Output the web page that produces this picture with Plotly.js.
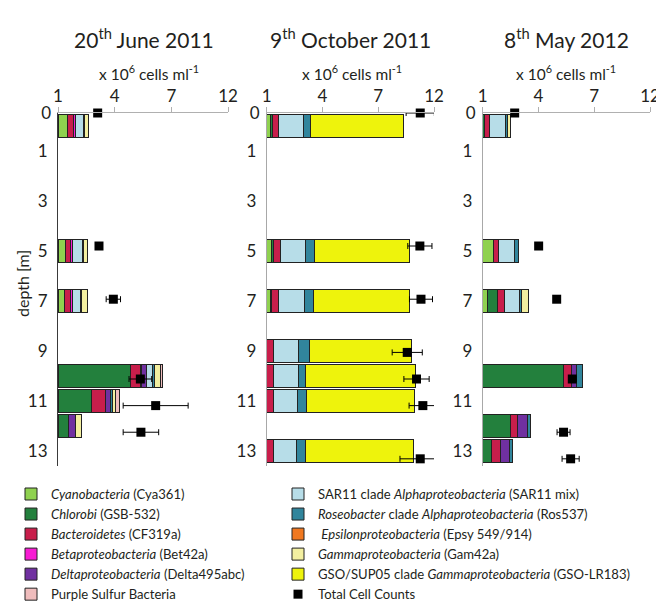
<!DOCTYPE html>
<html>
<head>
<meta charset="utf-8">
<script src="https://cdn.plot.ly/plotly-3.0.1.min.js"></script>
<style>html,body{margin:0;padding:0;background:#fff;}#chart{width:656px;height:602px;}</style>
</head>
<body>
<div id="chart"></div>
<script>
// ---- Data (bar lengths in axis units, axis tick "1" = 0) ----
const panelTitles = ["20<sup>th</sup> June 2011", "9<sup>th</sup> October 2011", "8<sup>th</sup> May 2012"];
const xTickVals = [0, 3, 6, 9];
const xTickText = ["1", "4", "7", "12"];
const yTickVals = [1, 3, 5, 7, 9, 11, 13];

// 20th June 2011
const depths1   = [0, 5, 7, 10, 11, 12];
const cyano1    = [0.49, 0.39, 0.37, null, null, null];
const chlorobi1 = [null, null, null, 3.85, 1.75, 0.58];
const bact1     = [0.32, 0.25, 0.28, 0.51, 0.74, null];
const beta1     = [0.10, 0.14, 0.14, 0.07, 0.05, null];
const delta1    = [null, null, null, 0.25, 0.25, 0.32];
const sar11_1   = [0.42, 0.53, 0.38, 0.33, null, null];
const roseo1    = [0.05, 0.04, 0.08, 0.10, 0.10, 0.05];
const eps1      = [null, null, null, null, null, null];
const gamma1    = [0.22, 0.22, 0.30, 0.30, 0.15, 0.28];
const gso1      = [null, null, null, null, null, null];
const psb1      = [null, null, null, 0.10, 0.20, null];
const count1    = [2.10, 2.17, 2.93, 4.36, 5.17, 4.39];
const countErr1 = [0, 0, 0.38, 0.60, 1.72, 0.94];

// 9th October 2011
const depths2   = [0, 5, 7, 9, 10, 11, 13];
const cyano2    = [0.20, 0.28, 0.18, null, null, null, null];
const chlorobi2 = [0.10, 0.10, 0.10, null, null, null, null];
const bact2     = [0.36, 0.36, 0.35, 0.39, 0.39, 0.39, 0.39];
const beta2     = [null, null, null, null, null, null, null];
const delta2    = [null, null, null, null, null, null, null];
const sar11_2   = [1.33, 1.33, 1.40, 1.33, 1.33, 1.29, 1.22];
const roseo2    = [0.37, 0.50, 0.50, 0.57, 0.39, 0.47, 0.50];
const eps2      = [null, null, null, null, null, null, null];
const gamma2    = [null, null, null, null, null, null, null];
const gso2      = [4.98, 5.13, 5.17, 5.48, 5.88, 5.81, 5.77];
const psb2      = [null, null, null, null, null, null, null];
const count2    = [8.26, 8.24, 8.30, 7.56, 8.06, 8.40, 8.26];
const countErr2 = [0.76, 0.65, 0.62, 0.81, 0.68, 0.74, 1.09];

// 8th May 2012
const depths3   = [0, 5, 7, 10, 12, 13];
const cyano3    = [null, 0.57, 0.28, null, null, null];
const chlorobi3 = [0.12, null, 0.50, 4.37, 1.47, 0.46];
const bact3     = [0.27, 0.30, 0.40, 0.39, 0.39, 0.50];
const beta3     = [null, null, null, null, null, null];
const delta3    = [null, null, null, 0.30, 0.54, 0.50];
const sar11_3   = [0.82, 0.85, 0.79, null, null, null];
const roseo3    = [0.10, 0.18, 0.14, 0.29, 0.15, 0.14];
const eps3      = [null, null, null, null, null, null];
const gamma3    = [0.16, null, 0.36, null, null, null];
const gso3      = [null, null, null, null, null, null];
const psb3      = [null, null, null, null, null, null];
const count3    = [1.72, 3.01, 3.98, 4.82, 4.35, 4.73];
const countErr3 = [0, 0, 0, 0.20, 0.35, 0.46];

const groupNames = [
  "<i>Cyanobacteria</i> (Cya361)",
  "<i>Chlorobi</i> (GSB-532)",
  "<i>Bacteroidetes</i> (CF319a)",
  "<i>Betaproteobacteria</i> (Bet42a)",
  "<i>Deltaproteobacteria</i> (Delta495abc)",
  "SAR11 clade <i>Alphaproteobacteria</i> (SAR11 mix)",
  "<i>Roseobacter</i> clade <i>Alphaproteobacteria</i> (Ros537)",
  " <i>Epsilonproteobacteria</i> (Epsy 549/914)",
  "<i>Gammaproteobacteria</i> (Gam42a)",
  "GSO/SUP05 clade <i>Gammaproteobacteria</i> (GSO-LR183)",
  "Purple Sulfur Bacteria"
];
const groupColors = ["#8fd14f", "#23803d", "#c81e4b", "#f71bd3", "#7030a0",
                     "#b7dde8", "#31859c", "#f07820", "#f3efa0", "#eef30c", "#efbcbc"];
const groupLegend = ["legend", "legend", "legend", "legend", "legend",
                     "legend2", "legend2", "legend2", "legend2", "legend2", "legend"];
const legendRanks = [1, 2, 3, 4, 5, 1, 2, 3, 4, 5, 6];

const panels = [
  {depths: depths1, groups: [cyano1, chlorobi1, bact1, beta1, delta1, sar11_1, roseo1, eps1, gamma1, gso1, psb1], count: count1, err: countErr1},
  {depths: depths2, groups: [cyano2, chlorobi2, bact2, beta2, delta2, sar11_2, roseo2, eps2, gamma2, gso2, psb2], count: count2, err: countErr2},
  {depths: depths3, groups: [cyano3, chlorobi3, bact3, beta3, delta3, sar11_3, roseo3, eps3, gamma3, gso3, psb3], count: count3, err: countErr3}
];

// ---- Build ----
const W = 656, H = 602;
const FONT = "Lato, 'Open Sans', sans-serif";
const TXT = "#231f20";
const xDomPx = [[58, 228], [266.7, 434], [482.7, 650]];
const yTopPx = 113, yBotPx = 466;
const yDom = [1 - yBotPx / H, 1 - yTopPx / H];

const traces = [];
panels.forEach((p, i) => {
  const xa = i === 0 ? "x" : "x" + (i + 1);
  const ya = i === 0 ? "y" : "y" + (i + 1);
  const yc = "y" + (i + 4);
  p.groups.forEach((vals, g) => {
    traces.push({
      type: "bar", orientation: "h",
      x: vals, y: p.depths, xaxis: xa, yaxis: ya,
      width: 0.95,
      name: groupNames[g], legendgroup: "g" + g,
      legend: groupLegend[g], legendrank: legendRanks[g],
      showlegend: i === 0,
      marker: {color: groupColors[g], line: {color: "#222", width: 1}},
      hoverinfo: "x+y+name"
    });
  });
  traces.push({
    type: "scatter", mode: "markers",
    x: p.count, y: p.depths, xaxis: xa, yaxis: yc,
    name: "Total Cell Counts", legendgroup: "tc",
    legend: "legend2", legendrank: 6,
    showlegend: i === 0, cliponaxis: false,
    marker: {symbol: "square", size: 9, color: "#000"},
    error_x: {type: "data", array: p.err, visible: true, color: "#000", thickness: 1, width: 3}
  });
});

const legendBase = {
  orientation: "v", yanchor: "top", xanchor: "left",
  y: 1 - 479 / H, traceorder: "normal", tracegroupgap: 0,
  font: {family: FONT, size: 13.1, color: TXT},
  bgcolor: "rgba(0,0,0,0)"
};

const layout = {
  width: W, height: H,
  margin: {l: 0, r: 0, t: 0, b: 0, autoexpand: false},
  paper_bgcolor: "#fff", plot_bgcolor: "rgba(0,0,0,0)",
  font: {family: FONT, color: TXT, size: 13},
  barmode: "stack", bargap: 0,
  showlegend: true,
  legend: Object.assign({}, legendBase, {x: 11 / W}),
  legend2: Object.assign({}, legendBase, {x: 278 / W}),
  annotations: []
};

const titleX = [144, 350, 566];
const unitX = [149, 352, 566];
for (let i = 0; i < 3; i++) {
  const s = i === 0 ? "" : String(i + 1);
  layout["xaxis" + s] = {
    domain: [xDomPx[i][0] / W, xDomPx[i][1] / W],
    anchor: "y" + s, side: "top",
    range: [0, 9], fixedrange: true,
    tickvals: xTickVals, ticktext: xTickText,
    ticks: "outside", ticklen: 5, tickcolor: "#b0b0b0",
    ticklabelstandoff: -2, ticklabeloverflow: "allow",
    showline: true, linecolor: "#b0b0b0", linewidth: 1,
    showgrid: false, zeroline: false,
    tickfont: {size: 17, family: FONT, color: TXT}
  };
  layout["yaxis" + s] = {
    domain: yDom, anchor: "x" + s,
    range: [13.6, -0.52], fixedrange: true,
    tickvals: yTickVals,
    ticks: "", ticklabelstandoff: 6,
    showline: true, linecolor: i === 0 ? "#3a3a3a" : "#a8a8a8", linewidth: 1,
    showgrid: false, zeroline: false,
    tickfont: {size: 17, family: FONT, color: TXT}
  };
  layout["yaxis" + (i + 4)] = {
    overlaying: "y" + s, anchor: "x" + s, side: "left",
    range: [13.27, 0], fixedrange: true,
    tickvals: [0], ticktext: ["0"],
    ticks: "", ticklabelstandoff: 6,
    showline: false, showgrid: false, zeroline: false,
    tickfont: {size: 17, family: FONT, color: TXT}
  };
  layout.annotations.push({
    text: panelTitles[i], xref: "paper", yref: "paper",
    x: titleX[i] / W, y: 1 - 38 / H, xanchor: "center", yanchor: "middle",
    showarrow: false, font: {size: 21, family: FONT, color: TXT}
  });
  layout.annotations.push({
    text: "x 10<sup>6</sup> cells ml<sup>-1</sup>", xref: "paper", yref: "paper",
    x: unitX[i] / W, y: 1 - 72 / H, xanchor: "center", yanchor: "middle",
    showarrow: false, font: {size: 15.5, family: FONT, color: TXT}
  });
}
layout.annotations.push({
  text: "depth [m]", xref: "paper", yref: "paper",
  x: 22 / W, y: 1 - 284 / H, xanchor: "center", yanchor: "middle",
  textangle: -90, showarrow: false, font: {size: 16, family: FONT, color: TXT}
});

Plotly.newPlot("chart", traces, layout, {displayModeBar: false, staticPlot: true});
</script>
</body>
</html>
